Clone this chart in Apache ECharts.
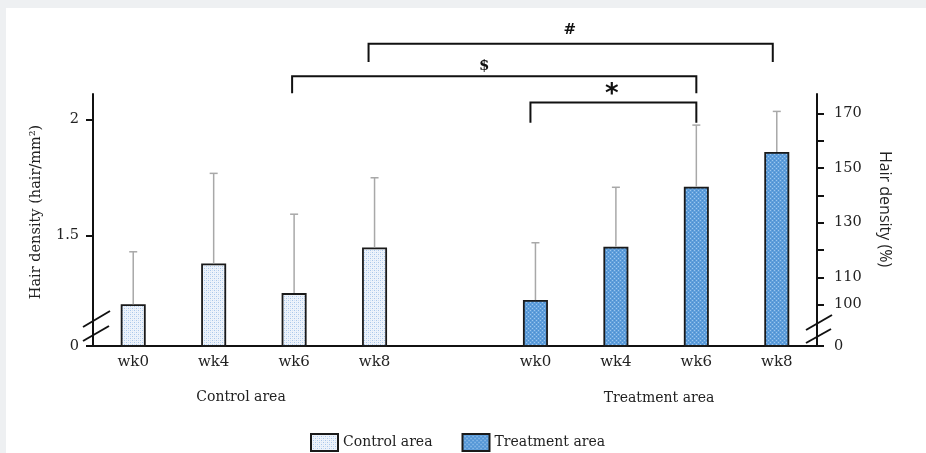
<!DOCTYPE html>
<html><head><meta charset="utf-8">
<script src="https://cdn.jsdelivr.net/npm/echarts@6/dist/echarts.min.js"></script>
<style>html,body{margin:0;padding:0;background:#fff}#c{width:926px;height:453px}</style>
</head><body><div id="c"></div>
<script>
const categories = ['wk0','wk4','wk6','wk8','','wk0','wk4','wk6','wk8'];
const controlMean = [1.203, 1.379, 1.251, 1.448];
const controlErr  = [0.226, 0.388, 0.340, 0.300];
const treatMean   = [1.221, 1.451, 1.709, 1.859];
const treatErr    = [0.247, 0.256, 0.266, 0.175];
const controlIdx  = [0, 1, 2, 3];
const treatIdx    = [5, 6, 7, 8];
const leftTickValues  = [1.5, 2];
const rightTickValues = [100, 110, 120, 130, 140, 150, 160, 170];
const rightLabelValues = [100, 110, 130, 150, 170];
const brackets = [
  {from: 3, to: 8, line: 2.326, drop: 2.247, label: '#'},
  {from: 2, to: 7, line: 2.185, drop: 2.112, label: '$'},
  {from: 5, to: 7, line: 2.072, drop: 1.985, label: '*'}
];
const groupLabels = ['Control area', 'Treatment area'];

const LMIN = 1.023, LMAX = 2.109, RMIN = 84.85, RMAX = 177.06;
const serif = 'DejaVu Serif';
// small visual nudges for bracket drawing (pixels)
const bracketStyle = {
  '#': {dxFrom: -6, dxTo: -4, tdx: -6, tdy: -14, size: 15, font: serif},
  '$': {dxFrom: -2, dxTo: 0, tdx: -11, tdy: -10, size: 15, font: serif},
  '*': {dxFrom: -5, dxTo: 0, tdx: -4, tdy: -7, size: 26, font: 'DejaVu Sans'}
};

function makePattern(bg, dot, dot2) {
  const c = document.createElement('canvas');
  c.width = 4; c.height = 4;
  const g = c.getContext('2d');
  g.fillStyle = bg; g.fillRect(0, 0, 4, 4);
  g.fillStyle = dot; g.fillRect(0, 0, 1, 1); g.fillRect(2, 2, 1, 1);
  g.fillStyle = dot2; g.fillRect(2, 0, 1, 1); g.fillRect(0, 2, 1, 1);
  return {image: c, repeat: 'repeat'};
}
const controlFill = makePattern('#edf3fb', '#a8c6ea', '#d0e0f4');
const treatFill = makePattern('#5e9edb', '#9cc6ee', '#4d8dcf');

const controlData = categories.map(() => '-');
controlIdx.forEach((k, i) => controlData[k] = controlMean[i]);
const treatData = categories.map(() => '-');
treatIdx.forEach((k, i) => treatData[k] = treatMean[i]);
const errData = controlIdx.map((k, i) => [k, controlMean[i], controlMean[i] + controlErr[i]])
  .concat(treatIdx.map((k, i) => [k, treatMean[i], treatMean[i] + treatErr[i]]));

const chart = echarts.init(document.getElementById('c'));
chart.setOption({
  animation: false,
  backgroundColor: '#fff',
  grid: {left: 93, right: 109, top: 94, bottom: 107, outerBoundsMode: 'none'},
  legend: {
    data: groupLabels, top: 428, left: 305, itemWidth: 27, itemHeight: 17, itemGap: 29, icon: 'rect',
    textStyle: {fontFamily: serif, fontSize: 14, color: '#222'}
  },
  xAxis: {
    type: 'category', data: categories,
    axisLine: {lineStyle: {color: '#111', width: 2}},
    axisTick: {show: false},
    axisLabel: {interval: 0, margin: 9, fontFamily: serif, fontSize: 15, color: '#222'}
  },
  yAxis: [{
    type: 'value', min: LMIN, max: LMAX, position: 'left',
    axisLine: {show: true, lineStyle: {color: '#111', width: 2}},
    axisTick: {show: true, length: 7, lineStyle: {color: '#111', width: 2}, customValues: [LMIN].concat(leftTickValues)},
    axisLabel: {margin: 14, fontFamily: serif, fontSize: 14.5, color: '#222', customValues: [LMIN].concat(leftTickValues),
      formatter: v => v < 1.2 ? '0' : String(v)},
    splitLine: {show: false}
  }, {
    type: 'value', min: RMIN, max: RMAX, position: 'right',
    axisLine: {show: true, lineStyle: {color: '#111', width: 2}},
    axisTick: {show: true, length: 7, lineStyle: {color: '#111', width: 2}, customValues: [RMIN].concat(rightTickValues)},
    axisLabel: {margin: 17, fontFamily: serif, fontSize: 14.5, color: '#222', customValues: [RMIN].concat(rightLabelValues),
      formatter: v => v < 90 ? '0' : String(v)},
    splitLine: {show: false}
  }],
  series: [{
    name: groupLabels[0], type: 'bar', data: controlData, barWidth: 25, barGap: '-100%',
    itemStyle: {color: controlFill, borderColor: '#1a1a1a', borderWidth: 1.8}
  }, {
    name: groupLabels[1], type: 'bar', data: treatData, barWidth: 25, barGap: '-100%',
    itemStyle: {color: treatFill, borderColor: '#1a1a1a', borderWidth: 1.8}
  }, {
    type: 'custom', data: errData, z: 3,
    renderItem: (params, api) => {
      const p1 = api.coord([api.value(0), api.value(1)]);
      const p2 = api.coord([api.value(0), api.value(2)]);
      const st = {stroke: '#a8a8a8', lineWidth: 1.5};
      return {type: 'group', children: [
        {type: 'line', shape: {x1: p1[0], y1: p1[1], x2: p2[0], y2: p2[1]}, style: st},
        {type: 'line', shape: {x1: p2[0] - 4, y1: p2[1], x2: p2[0] + 4, y2: p2[1]}, style: st}
      ]};
    }
  }, {
    type: 'custom', data: brackets.map(b => [b.from, b.to, b.line, b.drop]), z: 5, clip: false,
    renderItem: (params, api) => {
      const b = brackets[params.dataIndex];
      const s = bracketStyle[b.label];
      const a = api.coord([b.from, b.line]);
      const c = api.coord([b.to, b.line]);
      const d = api.coord([b.from, b.drop]);
      const x1 = a[0] + s.dxFrom, x2 = c[0] + s.dxTo;
      const st = {stroke: '#111', lineWidth: 2, fill: null};
      return {type: 'group', children: [
        {type: 'polyline', shape: {points: [[x1, d[1]], [x1, a[1]], [x2, c[1]], [x2, d[1]]]}, style: st},
        {type: 'text', x: (a[0] + c[0]) / 2 + s.tdx, y: a[1] + s.tdy,
          style: {text: b.label, fontFamily: s.font, fontWeight: 'bold', fontSize: s.size,
            fill: '#111', align: 'center', verticalAlign: 'middle'}}
      ]};
    }
  }],
  graphic: [
    {type: 'rect', shape: {x: 0, y: 0, width: 926, height: 8}, style: {fill: '#eef0f2'}, silent: true},
    {type: 'rect', shape: {x: 0, y: 0, width: 6, height: 453}, style: {fill: '#eef0f2'}, silent: true},
    {type: 'line', shape: {x1: 83, y1: 327, x2: 110, y2: 311}, style: {stroke: '#111', lineWidth: 2}},
    {type: 'line', shape: {x1: 83, y1: 341, x2: 109, y2: 326}, style: {stroke: '#111', lineWidth: 2}},
    {type: 'line', shape: {x1: 806, y1: 330, x2: 832, y2: 315}, style: {stroke: '#111', lineWidth: 2}},
    {type: 'line', shape: {x1: 806, y1: 343, x2: 831, y2: 329}, style: {stroke: '#111', lineWidth: 2}},
    {type: 'text', x: 36, y: 212, rotation: Math.PI / 2,
      style: {text: 'Hair density (hair/mm²)', fontFamily: serif, fontSize: 14.5, fill: '#222', align: 'center', verticalAlign: 'middle'}},
    {type: 'text', x: 885, y: 209, rotation: -Math.PI / 2,
      style: {text: 'Hair density (%)', fontFamily: 'Open Sans', fontSize: 16, fill: '#222', align: 'center', verticalAlign: 'middle'}},
    {type: 'text', x: 241, y: 397,
      style: {text: groupLabels[0], fontFamily: serif, fontSize: 14, fill: '#222', align: 'center', verticalAlign: 'middle'}},
    {type: 'text', x: 659, y: 398,
      style: {text: groupLabels[1], fontFamily: serif, fontSize: 14, fill: '#222', align: 'center', verticalAlign: 'middle'}}
  ]
});
</script></body></html>
